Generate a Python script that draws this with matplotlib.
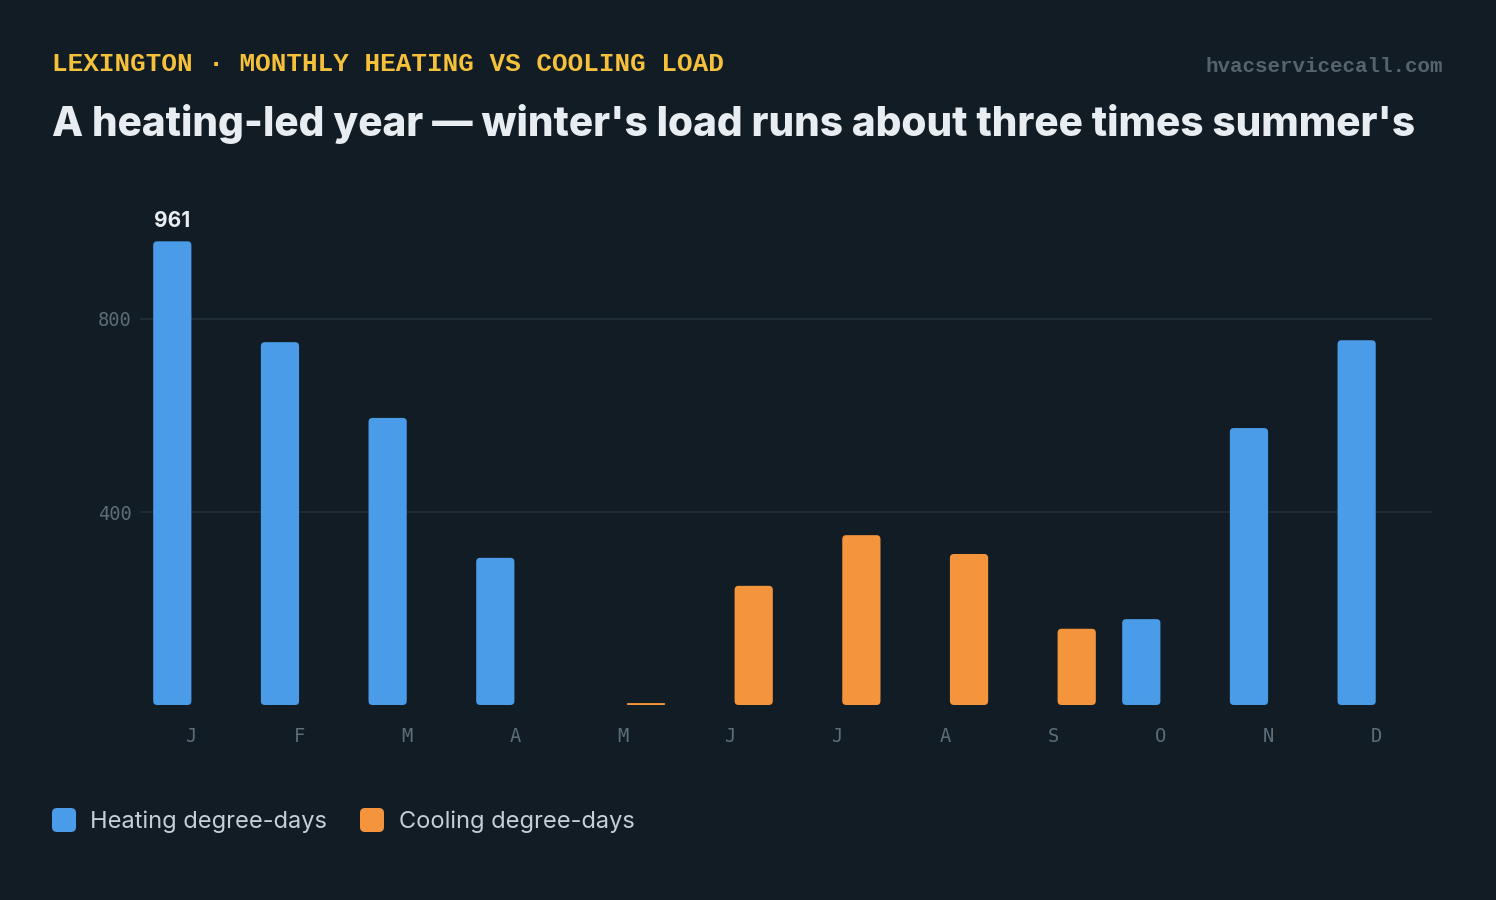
import matplotlib
matplotlib.use("Agg")
import matplotlib.pyplot as plt
import matplotlib.transforms as mtransforms
from matplotlib.patches import FancyBboxPatch
import numpy as np

# data
months = ["J", "F", "M", "A", "M", "J", "J", "A", "S", "O", "N", "D"]
heating = [961, 752, 595, 305, 0, 0, 0, 0, 0, 178, 574, 756]
cooling = [0, 0, 0, 0, 4, 247, 352, 313, 158, 0, 0, 0]
y_ticks = [400, 800]

BG = "#111c24"
BLUE = "#4a9be8"
ORANGE = "#f4943c"
GRID = "#1f2b34"
MUTED = "#5d6d79"
YELLOW = "#f6c13a"
TITLE = "#e8edf1"
LEGTXT = "#c5cfd8"

W, H = 1496, 900
fx = lambda px: px / W
fy = lambda py: 1 - py / H

fig = plt.figure(figsize=(W / 100, H / 100), dpi=100, facecolor=BG)
ax_l, ax_r, ax_t, ax_b = 140, 1432, 222.5, 705
ax = fig.add_axes([fx(ax_l), fy(ax_b), (ax_r - ax_l) / W, (ax_b - ax_t) / H])
ax.set_facecolor(BG)

x = np.arange(len(months))
bw = 0.355
hb = ax.bar(x - 0.2, heating, bw, color=BLUE)
cb = ax.bar(x + 0.2, cooling, bw, color=ORANGE)
ax.set_xlim(-0.5, 11.5)
ax.set_ylim(0, 1000)

# swap plain bars for rounded ones
px_x = (ax_r - ax_l) / 12.0
px_y = (ax_b - ax_t) / 1000.0
aspect = px_x / px_y
for bars in (hb, cb):
    for b in bars:
        h = b.get_height()
        if h > 0:
            r_px = min(4.0, h * px_y / 2)
            p = FancyBboxPatch((b.get_x(), 0), b.get_width(), h,
                               boxstyle=f"round,pad=0,rounding_size={r_px / px_x}",
                               mutation_aspect=aspect, fc=b.get_facecolor(), ec="none")
            ax.add_patch(p)
        b.remove()

ax.set_yticks(y_ticks)
ax.set_yticklabels([str(v) for v in y_ticks])
ax.set_xticks(x)
ax.set_xticklabels(months)
ax.yaxis.grid(True, color=GRID, lw=1.5)
ax.set_axisbelow(True)
for s in ax.spines.values():
    s.set_visible(False)
ax.tick_params(axis="y", length=0, pad=6, labelsize=13.5, labelcolor=MUTED)
ax.tick_params(axis="x", length=0, pad=16, labelsize=13.5, labelcolor=MUTED)
shift = mtransforms.ScaledTranslation(-2 / 100, 0, fig.dpi_scale_trans)
for lab in ax.get_xticklabels():
    lab.set_family("DejaVu Sans Mono")
    lab.set_transform(lab.get_transform() + shift)
for lab in ax.get_yticklabels():
    lab.set_family("DejaVu Sans Mono")

# label on the peak
imax = int(np.argmax(heating))
ax.annotate(str(heating[imax]), (x[imax] - 0.2, heating[imax]), xytext=(0, 10),
            textcoords="offset points", ha="center", va="baseline",
            fontsize=15, fontweight="bold", color=TITLE, family=["Inter", "DejaVu Sans"])

# header texts
sub = fig.text(fx(52), fy(71), "LEXINGTON · MONTHLY HEATING VS COOLING LOAD",
               fontsize=17, fontweight="bold", color=YELLOW,
               family=["Liberation Mono", "DejaVu Sans Mono"], va="baseline")
title = fig.text(fx(52), fy(136), "A heating-led year — winter's load runs about three times summer's",
                 fontsize=30, fontweight="heavy", color=TITLE,
                 family=["Inter", "DejaVu Sans"], va="baseline")
mark = fig.text(fx(1443), fy(72), "hvacservicecall.com", fontsize=14, fontweight="bold",
                color="#56636e", family=["Liberation Mono", "DejaVu Sans Mono"],
                ha="right", va="baseline")

# fit header widths
fig.canvas.draw()
for t, target in ((title, 1368), (sub, 670), (mark, 240)):
    w = t.get_window_extent().width
    t.set_fontsize(t.get_fontsize() * target / w)

# legend
for x0, col, txt, tx in ((52, BLUE, "Heating degree-days", 90),
                         (360, ORANGE, "Cooling degree-days", 399)):
    fig.patches.append(FancyBboxPatch((fx(x0), fy(832)), 24 / W, 24 / H,
                                      boxstyle=f"round,pad=0,rounding_size={5 / W}",
                                      mutation_aspect=W / H, transform=fig.transFigure,
                                      fc=col, ec="none", figure=fig))
    fig.text(fx(tx), fy(828), txt, fontsize=17, color=LEGTXT,
             family=["Inter", "DejaVu Sans"], va="baseline")

fig.savefig("out.png", dpi=100, facecolor=BG)
